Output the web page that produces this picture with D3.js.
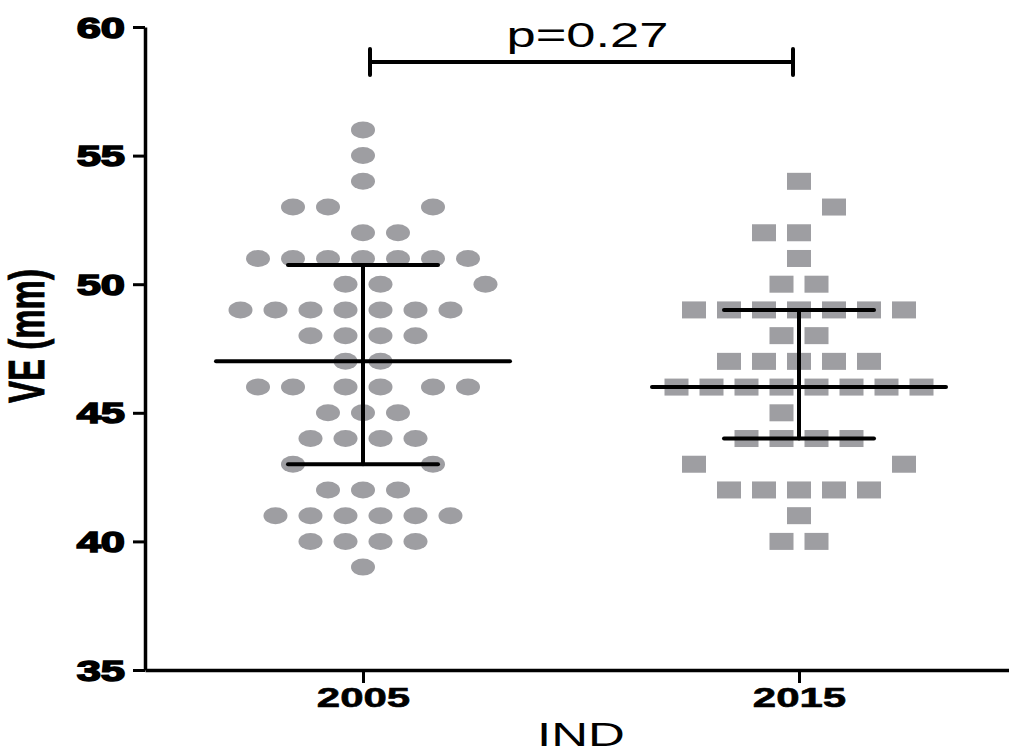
<!DOCTYPE html>
<html>
<head>
<meta charset="utf-8">
<script src="https://cdn.jsdelivr.net/npm/d3@7"></script>
<style>
  html, body { margin: 0; padding: 0; background: #fff; }
  svg { display: block; }
</style>
</head>
<body>
<svg id="chart" width="1009" height="754"></svg>
<script>
// Groups on the x axis
const groups = ["2005", "2015"];

// VE measurements (mm), one entry per subject, listed row by row from the top
const ve2005 = [
  56,
  55,
  54,
  53, 53, 53,
  52, 52,
  51, 51, 51, 51, 51, 51, 51,
  50, 50, 50,
  49, 49, 49, 49, 49, 49, 49,
  48, 48, 48, 48,
  47, 47,
  46, 46, 46, 46, 46, 46,
  45, 45, 45,
  44, 44, 44, 44,
  43, 43,
  42, 42, 42,
  41, 41, 41, 41, 41, 41,
  40, 40, 40, 40,
  39
];
// Swarm lane of each 2005 subject (in dot widths from the group centre)
const lane2005 = [
  0,
  0,
  0,
  -2, -1, 2,
  0, 1,
  -3, -2, -1, 0, 1, 2, 3,
  -0.5, 0.5, 3.5,
  -3.5, -2.5, -1.5, -0.5, 0.5, 1.5, 2.5,
  -1.5, -0.5, 0.5, 1.5,
  -0.5, 0.5,
  -3, -2, -0.5, 0.5, 2, 3,
  -1, 0, 1,
  -1.5, -0.5, 0.5, 1.5,
  -2, 2,
  -1, 0, 1,
  -2.5, -1.5, -0.5, 0.5, 1.5, 2.5,
  -1.5, -0.5, 0.5, 1.5,
  0
];

const ve2015 = [
  54,
  53,
  52, 52,
  51,
  50, 50,
  49, 49, 49, 49, 49, 49, 49,
  48, 48,
  47, 47, 47, 47, 47,
  46, 46, 46, 46, 46, 46, 46, 46,
  45,
  44, 44, 44, 44,
  43, 43,
  42, 42, 42, 42, 42,
  41,
  40, 40
];
const lane2015 = [
  0,
  1,
  -1, 0,
  0,
  -0.5, 0.5,
  -3, -2, -1, 0, 1, 2, 3,
  -0.5, 0.5,
  -2, -1, 0, 1, 2,
  -3.5, -2.5, -1.5, -0.5, 0.5, 1.5, 2.5, 3.5,
  -0.5,
  -1.5, -0.5, 0.5, 1.5,
  -3, 3,
  -2, -1, 0, 1, 2,
  0,
  -0.5, 0.5
];

// Y axis ticks and labels
const yTicks = [35, 40, 45, 50, 55, 60];
const pLabel = "p=0.27";
const yTitle = "VE (mm)";
const xTitle = "IND";

// Percentile using the (n+1)p rule, as in GraphPad Prism
function percentile(values, p) {
  const s = values.slice().sort(d3.ascending);
  const n = s.length;
  const h = (n + 1) * p;
  const lo = Math.floor(h), frac = h - lo;
  if (lo < 1) return s[0];
  if (lo >= n) return s[n - 1];
  return s[lo - 1] + frac * (s[lo] - s[lo - 1]);
}

// ---- layout ----
const svg = d3.select("#chart");
const SX = 1.5;              // horizontal stretch applied to all lettering
const laneW = 35;            // width of one swarm lane
const dotW = 24, dotH = 17;  // marker size
const markerFill = "#9e9ea2";

const x = d3.scalePoint().domain(groups).range([145, 1017]).padding(0.5);
const y = d3.scaleLinear().domain([35, 60]).range([670, 27]);

const series = [
  { g: "2005", v: ve2005, lane: lane2005, shape: "circle" },
  { g: "2015", v: ve2015, lane: lane2015, shape: "square" }
];

// markers
series.forEach(s => {
  const pts = s.v.map((v, i) => ({ v, lane: s.lane[i] }));
  const grp = svg.append("g").attr("fill", markerFill);
  if (s.shape === "circle") {
    grp.selectAll("ellipse").data(pts).join("ellipse")
      .attr("cx", d => x(s.g) + d.lane * laneW)
      .attr("cy", d => y(d.v))
      .attr("rx", dotW / 2)
      .attr("ry", dotH / 2);
  } else {
    grp.selectAll("rect").data(pts).join("rect")
      .attr("x", d => x(s.g) + d.lane * laneW - dotW / 2)
      .attr("y", d => y(d.v) - dotH / 2)
      .attr("width", dotW)
      .attr("height", dotH);
  }
});

// median with interquartile range
const bars = svg.append("g").attr("stroke", "#000").attr("stroke-width", 4)
  .attr("stroke-linecap", "round").attr("fill", "none");
series.forEach(s => {
  const cx = x(s.g);
  const med = percentile(s.v, 0.5), q1 = percentile(s.v, 0.25), q3 = percentile(s.v, 0.75);
  bars.append("line").attr("x1", cx - 147).attr("x2", cx + 147)
    .attr("y1", y(med)).attr("y2", y(med));
  bars.append("line").attr("x1", cx).attr("x2", cx)
    .attr("y1", y(q3)).attr("y2", y(q1));
  bars.append("line").attr("x1", cx - 75).attr("x2", cx + 75)
    .attr("y1", y(q3)).attr("y2", y(q3));
  bars.append("line").attr("x1", cx - 75).attr("x2", cx + 75)
    .attr("y1", y(q1)).attr("y2", y(q1));
});

// axes
const yAxis = svg.append("g").attr("transform", "translate(145,0)")
  .call(d3.axisLeft(y).tickValues(yTicks).tickSize(12).tickSizeOuter(0).tickFormat(d3.format("d")));
yAxis.select(".domain").attr("stroke-width", 3.5);
yAxis.selectAll(".tick line").attr("stroke-width", 3);
yAxis.selectAll(".tick text")
  .attr("x", 0).attr("dy", null)
  .attr("transform", `translate(-20,10) scale(${SX},1)`)
  .attr("text-anchor", "end")
  .attr("font-family", "'Liberation Sans', Arial, sans-serif")
  .attr("font-weight", "bold")
  .attr("font-size", 29)
  .attr("fill", "#000")
  .attr("stroke", "#000").attr("stroke-width", 1.5);

const xAxis = svg.append("g").attr("transform", "translate(0,670)")
  .call(d3.axisBottom(x).tickSize(13).tickSizeOuter(0));
xAxis.select(".domain").attr("stroke-width", 3.5);
xAxis.selectAll(".tick line").attr("stroke-width", 3);
xAxis.selectAll(".tick text")
  .attr("y", 0).attr("dy", null)
  .attr("transform", `translate(0,37) scale(${SX},1)`)
  .attr("text-anchor", "middle")
  .attr("font-family", "'Liberation Sans', Arial, sans-serif")
  .attr("font-weight", "bold")
  .attr("font-size", 28)
  .attr("fill", "#000")
  .attr("stroke", "#000").attr("stroke-width", 0.6);

// axis titles
svg.append("text")
  .attr("transform", `translate(${(x("2005") + x("2015")) / 2},746) scale(${SX},1)`)
  .attr("text-anchor", "middle")
  .attr("font-family", "'Liberation Sans', Arial, sans-serif")
  .attr("font-size", 34)
  .text(xTitle);

svg.append("text")
  .attr("transform", `translate(44,336) rotate(-90) scale(1,${SX})`)
  .attr("text-anchor", "middle")
  .attr("font-family", "'Liberation Sans', Arial, sans-serif")
  .attr("font-weight", "bold")
  .attr("font-size", 33)
  .attr("stroke", "#000").attr("stroke-width", 0.6)
  .text(yTitle);

// significance bracket between groups
const bx1 = x("2005") + 7, bx2 = x("2015") - 6, by = 62;
const br = svg.append("g").attr("stroke", "#000").attr("stroke-width", 4)
  .attr("stroke-linecap", "round");
br.append("line").attr("x1", bx1).attr("x2", bx2).attr("y1", by).attr("y2", by);
br.append("line").attr("x1", bx1).attr("x2", bx1).attr("y1", by - 13).attr("y2", by + 13);
br.append("line").attr("x1", bx2).attr("x2", bx2).attr("y1", by - 13).attr("y2", by + 13);

svg.append("text")
  .attr("transform", `translate(${(bx1 + bx2) / 2 + 6},47) scale(${SX},1)`)
  .attr("text-anchor", "middle")
  .attr("font-family", "'Liberation Sans', Arial, sans-serif")
  .attr("font-size", 35)
  .text(pLabel);
</script>
</body>
</html>
